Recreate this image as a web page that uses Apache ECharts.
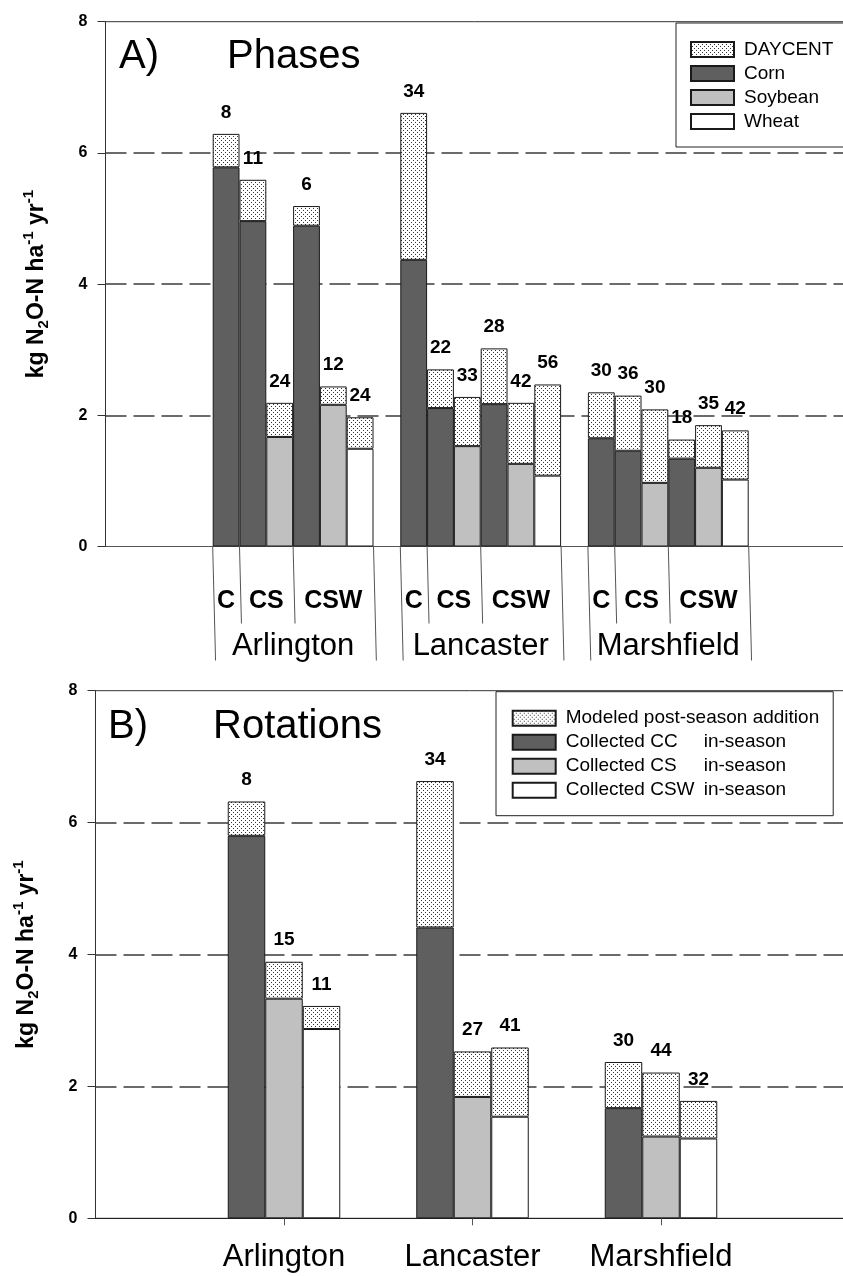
<!DOCTYPE html>
<html>
<head>
<meta charset="utf-8">
<script src="https://cdn.jsdelivr.net/npm/echarts@6/dist/echarts.min.js"></script>
<style>
  html, body { margin: 0; padding: 0; background: #fff; overflow: hidden; }
  #chart { width: 843px; height: 1276px; }
</style>
</head>
<body>
<div id="chart"></div>
<script>
// ---- data -------------------------------------------------------------
const sites = ['Arlington', 'Lancaster', 'Marshfield'];
const rotations = ['C', 'CS', 'CSW'];

// Panel A: six crop phases per site (C-corn, CS-corn, CS-soybean, CSW-corn, CSW-soybean, CSW-wheat)
const phaseRotation = ['C', 'CS', 'CS', 'CSW', 'CSW', 'CSW'];
const phaseCrop = ['Corn', 'Corn', 'Soybean', 'Corn', 'Soybean', 'Wheat'];
const arlingtonPhaseCollected = [5.78, 4.96, 1.67, 4.89, 2.16, 1.49];
const arlingtonPhaseDaycent   = [0.51, 0.63, 0.52, 0.30, 0.28, 0.48];
const lancasterPhaseCollected = [4.37, 2.11, 1.53, 2.17, 1.26, 1.08];
const lancasterPhaseDaycent   = [2.24, 0.59, 0.75, 0.85, 0.93, 1.39];
const marshfieldPhaseCollected = [1.65, 1.46, 0.97, 1.34, 1.20, 1.02];
const marshfieldPhaseDaycent   = [0.70, 0.84, 1.12, 0.29, 0.65, 0.75];
const arlingtonPhasePct  = ['8', '11', '24', '6', '12', '24'];
const lancasterPhasePct  = ['34', '22', '33', '28', '42', '56'];
const marshfieldPhasePct = ['30', '36', '30', '18', '35', '42'];

// Panel B: whole rotations per site
const collectedCC  = [5.80, 4.41, 1.67];
const collectedCS  = [3.33, 1.84, 1.24];
const collectedCSW = [2.87, 1.54, 1.21];
const modeledCC  = [0.52, 2.22, 0.70];
const modeledCS  = [0.56, 0.69, 0.97];
const modeledCSW = [0.35, 1.05, 0.57];
const pctCC  = ['8', '34', '30'];
const pctCS  = ['15', '27', '44'];
const pctCSW = ['11', '41', '32'];

const yTicks = { min: 0, max: 8, interval: 2 };

// ---- helpers ----------------------------------------------------------
const FONT = '"Liberation Sans", Arial, Helvetica, sans-serif';
const CORN = '#5f5f5f', SOY = '#c0c0c0', WHEAT = '#ffffff';
const EDGE = { borderColor: '#1a1a1a', borderWidth: 1 };

function dotCanvas() {
  const c = document.createElement('canvas');
  c.width = 4; c.height = 4;
  const g = c.getContext('2d');
  g.fillStyle = '#ffffff'; g.fillRect(0, 0, 4, 4);
  g.fillStyle = '#333333';
  g.fillRect(1, 0, 1, 1);
  g.fillRect(3, 2, 1, 1);
  return c;
}
const DOTS = { image: dotCanvas(), repeat: 'repeat' };

// slot layout of panel A: empty lead-in, six bars per site, one empty slot between sites
const LEAD = 4, TOTAL_SLOTS = 28, SLOT_W = 26.8;
const slots = [];
for (let i = 0; i < LEAD; i++) slots.push(null);
sites.forEach((s, si) => {
  if (si > 0) slots.push(null);
  for (let k = 0; k < 6; k++) slots.push({ site: si, k });
});
while (slots.length < TOTAL_SLOTS) slots.push(null);
const slotNames = slots.map((_, i) => 'p' + i);

const phaseCollected = [arlingtonPhaseCollected, lancasterPhaseCollected, marshfieldPhaseCollected];
const phaseDaycent = [arlingtonPhaseDaycent, lancasterPhaseDaycent, marshfieldPhaseDaycent];
const phasePct = [arlingtonPhasePct, lancasterPhasePct, marshfieldPhasePct];

const cropData = crop => slots.map(s => (s && phaseCrop[s.k] === crop) ? phaseCollected[s.site][s.k] : '-');
const daycentData = slots.map(s => s ? phaseDaycent[s.site][s.k] : '-');
const daycentPct = slots.map(s => s ? phasePct[s.site][s.k] : '');

const rotCats = ['e0', ...sites, 'e4'];
const pad = arr => ['-', ...arr, '-'];
const padLabel = arr => ['', ...arr, ''];

const valueLabel = labels => ({
  show: true, position: 'top', distance: 12,
  fontFamily: FONT, fontSize: 19, fontWeight: 'bold', color: '#000',
  formatter: p => labels[p.dataIndex]
});

const yName = '{t|kg N}{sub|2}{t|O-N ha}{sup|-1}{t| yr}{sup|-1}';
const yNameStyle = {
  rich: {
    t:   { fontFamily: FONT, fontSize: 23, fontWeight: 'bold', color: '#000', lineHeight: 30, verticalAlign: 'middle' },
    sub: { fontFamily: FONT, fontSize: 15, fontWeight: 'bold', color: '#000', lineHeight: 15, verticalAlign: 'bottom' },
    sup: { fontFamily: FONT, fontSize: 15, fontWeight: 'bold', color: '#000', lineHeight: 15, verticalAlign: 'top' }
  }
};

function valueAxis(gridIndex) {
  return {
    gridIndex, type: 'value', min: yTicks.min, max: yTicks.max, interval: yTicks.interval,
    name: yName, nameLocation: 'middle', nameRotate: 90, nameGap: 54, nameTextStyle: yNameStyle,
    axisLine: { show: true, lineStyle: { color: '#333', width: 1 } },
    axisTick: { show: true, length: 8, lineStyle: { color: '#333', width: 1 } },
    axisLabel: { margin: 18, fontFamily: FONT, fontSize: 16, fontWeight: 'bold', color: '#000' },
    splitLine: { show: true, showMinLine: false, showMaxLine: false,
                 lineStyle: { color: '#6b6b6b', width: 2, type: [21, 7] } }
  };
}

const collectedNames = {
  'Collected CC in-season': 'Collected CC',
  'Collected CS in-season': 'Collected CS',
  'Collected CSW in-season': 'Collected CSW'
};

const chart = echarts.init(document.getElementById('chart'), null, { renderer: 'canvas' });

chart.setOption({
  backgroundColor: '#fff',
  animation: false,
  // both plot frames run on past the right edge of the page
  grid: [
    { left: 105.5, top: 21.7, width: TOTAL_SLOTS * SLOT_W, height: 524.8, outerBoundsMode: 'none',
      containLabel: false, show: true, borderColor: '#333', borderWidth: 1 },
    { left: 95.5, top: 690.7, width: 754, height: 527.6, outerBoundsMode: 'none',
      containLabel: false, show: true, borderColor: '#333', borderWidth: 1 }
  ],
  xAxis: [
    { gridIndex: 0, type: 'category', data: slotNames, boundaryGap: true,
      axisLine: { lineStyle: { color: '#555', width: 1 } },
      axisTick: { show: false }, axisLabel: { show: false }, splitLine: { show: false } },
    { gridIndex: 1, type: 'category', data: rotCats, boundaryGap: false,
      axisLine: { lineStyle: { color: '#222', width: 1 } },
      axisTick: { show: true, length: 7, interval: i => i >= 1 && i <= sites.length, lineStyle: { color: '#555' } },
      axisLabel: { interval: 0, margin: 24, fontFamily: FONT, fontSize: 31, color: '#000',
                   formatter: v => sites.includes(v) ? v : '' },
      splitLine: { show: false } }
  ],
  yAxis: [valueAxis(0), valueAxis(1)],
  legend: [
    {
      orient: 'vertical', left: 676, top: 23, padding: [17, 40, 16, 14],
      itemWidth: 43, itemHeight: 15, itemGap: 5, icon: 'rect', selectedMode: false,
      backgroundColor: '#fff', borderColor: '#222', borderWidth: 1,
      data: ['DAYCENT', 'Corn', 'Soybean', 'Wheat'],
      textStyle: { fontFamily: FONT, fontSize: 19, lineHeight: 19, color: '#000', padding: [0, 0, 0, 5] }
    },
    {
      orient: 'vertical', left: 496, top: 691.7, padding: [17, 14, 16, 15.7],
      itemWidth: 43, itemHeight: 15, itemGap: 5, icon: 'rect', selectedMode: false,
      backgroundColor: '#fff', borderColor: '#222', borderWidth: 1,
      data: ['Modeled post-season addition', 'Collected CC in-season', 'Collected CS in-season', 'Collected CSW in-season'],
      formatter: name => collectedNames[name] ? `{a|${collectedNames[name]}}{b|in-season}` : name,
      textStyle: {
        fontFamily: FONT, fontSize: 19, lineHeight: 19, color: '#000', padding: [0, 0, 0, 5],
        rich: {
          a: { fontFamily: FONT, fontSize: 19, lineHeight: 19, color: '#000', width: 138 },
          b: { fontFamily: FONT, fontSize: 19, lineHeight: 19, color: '#000' }
        }
      }
    }
  ],
  series: [
    // panel A
    { name: 'Corn', type: 'bar', stack: 'phase', xAxisIndex: 0, yAxisIndex: 0, barCategoryGap: '0%',
      data: cropData('Corn'), itemStyle: { color: CORN, ...EDGE } },
    { name: 'Soybean', type: 'bar', stack: 'phase', xAxisIndex: 0, yAxisIndex: 0, barCategoryGap: '0%',
      data: cropData('Soybean'), itemStyle: { color: SOY, ...EDGE } },
    { name: 'Wheat', type: 'bar', stack: 'phase', xAxisIndex: 0, yAxisIndex: 0, barCategoryGap: '0%',
      data: cropData('Wheat'), itemStyle: { color: WHEAT, ...EDGE } },
    { name: 'DAYCENT', type: 'bar', stack: 'phase', xAxisIndex: 0, yAxisIndex: 0, barCategoryGap: '0%',
      data: daycentData, itemStyle: { color: DOTS, ...EDGE }, label: valueLabel(daycentPct) },
    // panel B
    { name: 'Collected CC in-season', type: 'bar', stack: 'cc', xAxisIndex: 1, yAxisIndex: 1,
      barWidth: 37.5, barGap: '0%', data: pad(collectedCC), itemStyle: { color: CORN, ...EDGE } },
    { name: 'Modeled post-season addition', type: 'bar', stack: 'cc', xAxisIndex: 1, yAxisIndex: 1,
      barWidth: 37.5, barGap: '0%', data: pad(modeledCC), itemStyle: { color: DOTS, ...EDGE },
      label: valueLabel(padLabel(pctCC)) },
    { name: 'Collected CS in-season', type: 'bar', stack: 'cs', xAxisIndex: 1, yAxisIndex: 1,
      barWidth: 37.5, barGap: '0%', data: pad(collectedCS), itemStyle: { color: SOY, ...EDGE } },
    { name: 'Modeled post-season addition', type: 'bar', stack: 'cs', xAxisIndex: 1, yAxisIndex: 1,
      barWidth: 37.5, barGap: '0%', data: pad(modeledCS), itemStyle: { color: DOTS, ...EDGE },
      label: valueLabel(padLabel(pctCS)) },
    { name: 'Collected CSW in-season', type: 'bar', stack: 'csw', xAxisIndex: 1, yAxisIndex: 1,
      barWidth: 37.5, barGap: '0%', data: pad(collectedCSW), itemStyle: { color: WHEAT, ...EDGE } },
    { name: 'Modeled post-season addition', type: 'bar', stack: 'csw', xAxisIndex: 1, yAxisIndex: 1,
      barWidth: 37.5, barGap: '0%', data: pad(modeledCSW), itemStyle: { color: DOTS, ...EDGE },
      label: valueLabel(padLabel(pctCSW)) }
  ]
});

// ---- panel titles and the two-level category labels of panel A ---------
const graphics = [];
const title = (text, x, y) => graphics.push({
  type: 'text', x, y, z: 10,
  style: { text, fontFamily: FONT, fontSize: 40, fill: '#000', align: 'left', verticalAlign: 'middle' }
});
title('A)', 119, 57);
title('Phases', 227, 57);
title('B)', 108, 727);
title('Rotations', 213, 727);

const px = name => chart.convertToPixel({ xAxisIndex: 0 }, name);
const slotW = px(slotNames[1]) - px(slotNames[0]);
const axisY = chart.convertToPixel({ yAxisIndex: 0 }, 0);
const vline = (x, len) => graphics.push({
  type: 'line', z: 10,
  shape: { x1: x, y1: axisY, x2: x + len / 40, y2: axisY + len },
  style: { stroke: '#555', lineWidth: 1 }
});
const label = (text, x, y, size, bold) => graphics.push({
  type: 'text', x, y, z: 10,
  style: { text, fontFamily: FONT, fontSize: size, fontWeight: bold ? 'bold' : 'normal',
           fill: '#000', align: 'center', verticalAlign: 'middle' }
});

sites.forEach((site, si) => {
  const first = slots.findIndex(s => s && s.site === si);
  const edge = k => px(slotNames[first + k]) - slotW / 2;
  vline(edge(0), 114);
  vline(edge(6), 114);
  rotations.forEach(rot => {
    const ks = phaseRotation.map((r, k) => r === rot ? k : -1).filter(k => k >= 0);
    const a = edge(ks[0]), b = edge(ks[ks.length - 1] + 1);
    if (ks[0] > 0) vline(a, 77);
    label(rot, (a + b) / 2, axisY + 55, 25, true);
  });
  label(site, (edge(0) + edge(6)) / 2, axisY + 100, 31, false);
});

chart.setOption({ graphic: graphics });
</script>
</body>
</html>
